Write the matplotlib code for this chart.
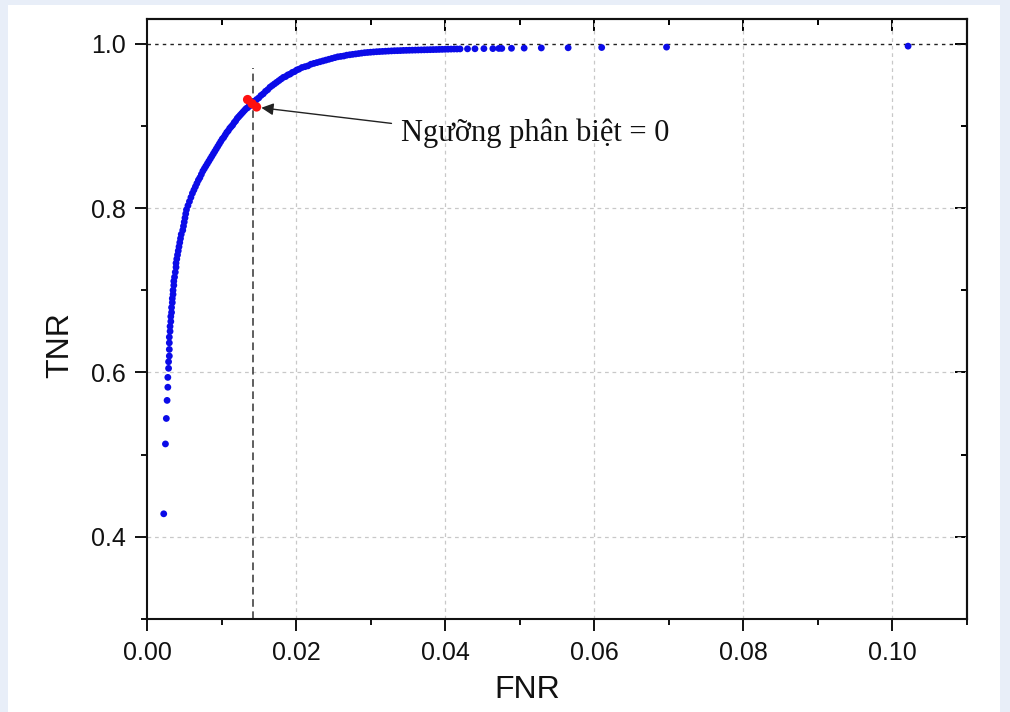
import matplotlib.pyplot as plt
import matplotlib.patches as patches
import numpy as np

# Dati: punti della curva (FNR, TNR), a tratti
# tratto basso (punti radi + parte ripida)
fnr_basso = [0.00225, 0.00248, 0.0026, 0.0027, 0.0028, 0.0028, 0.0029, 0.0029, 0.0030, 0.0030, 0.0030,
             0.0030, 0.0031, 0.0031, 0.0032, 0.0032, 0.0033, 0.0033, 0.0034, 0.0034, 0.0035, 0.0035,
             0.0036, 0.0036, 0.0037, 0.0038, 0.0039, 0.0039, 0.0040, 0.0041, 0.0042, 0.0043, 0.0044,
             0.0045, 0.0046, 0.0048, 0.0049, 0.0050, 0.0051, 0.0052, 0.0053, 0.0055, 0.0057, 0.0059]
tnr_basso = [0.428, 0.513, 0.544, 0.566, 0.582, 0.594, 0.605, 0.613, 0.620, 0.628, 0.636,
             0.643, 0.650, 0.656, 0.662, 0.668, 0.673, 0.679, 0.685, 0.690, 0.695, 0.700,
             0.706, 0.711, 0.716, 0.722, 0.728, 0.733, 0.738, 0.743, 0.748, 0.753, 0.758,
             0.763, 0.768, 0.773, 0.778, 0.783, 0.788, 0.793, 0.798, 0.803, 0.808, 0.813]

# tratto del gomito
fnr_gomito = [0.0061, 0.0063, 0.0065, 0.0067, 0.0069, 0.0071, 0.0073, 0.0075, 0.0077, 0.0079,
              0.0081, 0.0083, 0.0085, 0.0087, 0.0089, 0.0091, 0.0093, 0.0095, 0.0097, 0.0099,
              0.0101, 0.0103, 0.0105, 0.0107, 0.0109, 0.0111, 0.0113, 0.0115, 0.0117, 0.0119,
              0.0121, 0.0123, 0.0125, 0.0127, 0.0129, 0.0131, 0.0133, 0.0135, 0.0137, 0.0139,
              0.0141, 0.0143, 0.0145, 0.0147]
tnr_gomito = [0.818, 0.822, 0.826, 0.830, 0.834, 0.837, 0.841, 0.845, 0.848, 0.851,
              0.854, 0.857, 0.860, 0.863, 0.866, 0.869, 0.872, 0.875, 0.878, 0.881,
              0.884, 0.886, 0.889, 0.892, 0.894, 0.897, 0.899, 0.901, 0.904, 0.906,
              0.909, 0.911, 0.913, 0.915, 0.917, 0.919, 0.921, 0.922, 0.924, 0.925,
              0.927, 0.929, 0.930, 0.932]

# tratto alto (quasi piatto)
fnr_alto = [0.0150, 0.0153, 0.0156, 0.0159, 0.0162, 0.0165, 0.0168, 0.0171, 0.0174, 0.0177,
            0.0180, 0.0183, 0.0186, 0.0189, 0.0192, 0.0195, 0.0198, 0.0201, 0.0204, 0.0208,
            0.0212, 0.0216, 0.0220, 0.0224, 0.0228, 0.0232, 0.0236, 0.0240, 0.0244, 0.0248,
            0.0252, 0.0256, 0.0260, 0.0264, 0.0268, 0.0272, 0.0276, 0.0280, 0.0284, 0.0288,
            0.0292, 0.0296, 0.0300, 0.0304, 0.0308, 0.0312, 0.0316, 0.0320, 0.0324, 0.0328,
            0.0332, 0.0336, 0.0340, 0.0344, 0.0348, 0.0352, 0.0356, 0.0360, 0.0364, 0.0368,
            0.0372, 0.0376, 0.0380, 0.0384, 0.0388, 0.0392, 0.0396, 0.0400, 0.0404, 0.0408,
            0.0412, 0.0416, 0.0420]
tnr_alto = [0.934, 0.937, 0.939, 0.942, 0.944, 0.947, 0.949, 0.951, 0.953, 0.955,
            0.957, 0.959, 0.960, 0.962, 0.963, 0.965, 0.966, 0.968, 0.969, 0.971,
            0.972, 0.973, 0.975, 0.976, 0.977, 0.978, 0.979, 0.980, 0.981, 0.982,
            0.983, 0.984, 0.9845, 0.985, 0.986, 0.9865, 0.987, 0.9875, 0.988, 0.9885,
            0.989, 0.9893, 0.9896, 0.9899, 0.9902, 0.9904, 0.9906, 0.9908, 0.991, 0.9912,
            0.9914, 0.9915, 0.9916, 0.9918, 0.9919, 0.992, 0.9921, 0.9922, 0.9923, 0.9924,
            0.9925, 0.9926, 0.9927, 0.9928, 0.9929, 0.993, 0.9931, 0.9932, 0.9933, 0.9934,
            0.9935, 0.9935, 0.9936]

# coda di punti isolati
fnr_coda = [0.0430, 0.0440, 0.0452, 0.0464, 0.0472, 0.0476, 0.0489, 0.0506, 0.0529, 0.0565,
            0.0610, 0.0697, 0.1021]
tnr_coda = [0.9937, 0.9938, 0.994, 0.994, 0.9942, 0.9942, 0.9944, 0.9946, 0.9948, 0.995,
            0.9953, 0.9958, 0.997]

fnr = fnr_basso + fnr_gomito + fnr_alto + fnr_coda
tnr = tnr_basso + tnr_gomito + tnr_alto + tnr_coda

# punto della soglia (in rosso)
soglia_fnr = [0.0135, 0.0141, 0.0147]
soglia_tnr = [0.932, 0.927, 0.923]
soglia_x = 0.0142
testo_soglia = "Ngưỡng phân biệt = 0"

x_ticks = [0.00, 0.02, 0.04, 0.06, 0.08, 0.10]
y_ticks = [0.4, 0.6, 0.8, 1.0]

sans = ['Liberation Sans', 'DejaVu Sans']
serif = ['Liberation Serif', 'DejaVu Serif']

fig = plt.figure(figsize=(10.1, 7.12), dpi=100)
fig.patch.set_facecolor('#e8eef8')
# riquadro bianco dentro la cornice azzurra
fig.patches.append(patches.Rectangle((8 / 1010, 0), 992 / 1010, 1 - 5 / 712,
                                     transform=fig.transFigure, facecolor='white',
                                     edgecolor='none', zorder=-10))

ax = fig.add_axes([0.1455, 0.1306, 0.8119, 0.8427])
ax.set_facecolor('white')
ax.set_xlim(0, 0.11)
ax.set_ylim(0.3, 1.03)

# griglia grigia tratteggiata
for xv in x_ticks[1:]:
    ax.axvline(xv, color='#c8c8c8', lw=0.9, linestyle=(0, (3, 3)), zorder=1)
for yv in y_ticks[:-1]:
    ax.axhline(yv, color='#c8c8c8', lw=0.9, linestyle=(0, (3, 3)), zorder=1)

# linea punteggiata a TNR = 1
ax.axhline(1.0, color='#222222', lw=1.0, linestyle=(0, (2.5, 3)), zorder=2)
# linea verticale della soglia
ax.plot([soglia_x, soglia_x], [0.3, 0.97], color='#333333', lw=1.1,
        linestyle=(0, (5, 3)), zorder=2)

ax.scatter(fnr, tnr, s=24, color='#0b0be8', edgecolors='none', zorder=3)
ax.scatter(soglia_fnr, soglia_tnr, s=45, color='#ff1010', edgecolors='none', zorder=4)

ax.annotate('', xy=(0.01534, 0.922), xytext=(0.0328, 0.903),
            arrowprops=dict(arrowstyle='-|>', color='#222222', lw=1.0,
                            mutation_scale=18, shrinkA=0, shrinkB=0), zorder=5)
ax.text(0.0341, 0.8812, testo_soglia, family=serif, fontsize=22,
        ha='left', va='baseline', color='#111111')

# assi e tacche
for s in ax.spines.values():
    s.set_linewidth(1.5)
    s.set_color('#111111')

ax.set_xticks(x_ticks)
ax.set_xticks(np.arange(0.01, 0.111, 0.02), minor=True)
ax.set_yticks(y_ticks)
ax.set_yticks([0.3, 0.5, 0.7, 0.9], minor=True)
ax.set_xticklabels(['%.2f' % v for v in x_ticks], family=sans, fontsize=18)
ax.set_yticklabels(['%.1f' % v for v in y_ticks], family=sans, fontsize=18)
ax.tick_params(which='major', direction='out', length=8.5, width=1.4, pad=7,
               colors='#111111', top=False, right=False)
ax.tick_params(which='minor', direction='out', length=4.5, width=1.4,
               colors='#111111', top=False, right=False)

top = ax.secondary_xaxis('top')
top.set_xticks(x_ticks)
top.set_xticks(np.arange(0.01, 0.111, 0.02), minor=True)
top.tick_params(which='major', direction='in', length=8.5, width=1.4, labeltop=False)
top.tick_params(which='minor', direction='in', length=4.5, width=1.4, labeltop=False)
top.spines['top'].set_linewidth(1.5)

dx = ax.secondary_yaxis('right')
dx.set_yticks(y_ticks)
dx.set_yticks([0.3, 0.5, 0.7, 0.9], minor=True)
dx.tick_params(which='major', direction='in', length=8.5, width=1.4, labelright=False)
dx.tick_params(which='minor', direction='in', length=4.5, width=1.4, labelright=False)
dx.spines['right'].set_linewidth(1.5)

fig.text(527 / 1010, 1 - 690 / 712, 'FNR', family=sans, fontsize=23,
         ha='center', va='center', color='#111111')
fig.text(60 / 1010, 1 - 345 / 712, 'TNR', family=sans, fontsize=23, rotation=90,
         ha='center', va='center', color='#111111')

plt.savefig('out.png', dpi=100, facecolor=fig.get_facecolor())
